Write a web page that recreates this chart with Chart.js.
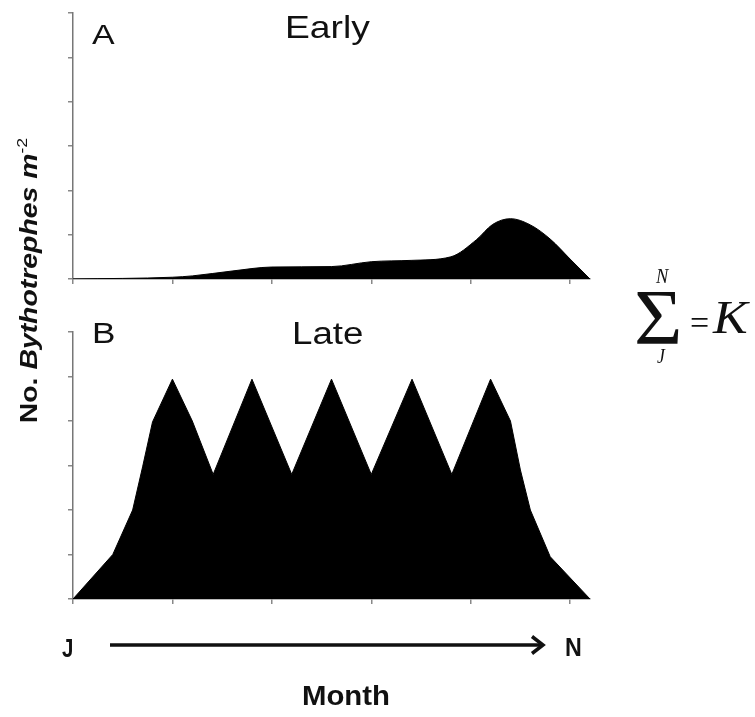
<!DOCTYPE html>
<html>
<head>
<meta charset="utf-8">
<script src="https://cdn.jsdelivr.net/npm/chart.js@4.4.1/dist/chart.umd.min.js"></script>
<style>
  html, body { margin: 0; padding: 0; background: #fff; }
  #wrap { position: relative; width: 755px; height: 717px; overflow: hidden; }
  .panel { position: absolute; left: 0; }
  .txt { position: absolute; white-space: nowrap; line-height: 1; color: #111; transform-origin: 0 0; }
</style>
</head>
<body>
<div id="wrap">
  <div class="panel" style="top:0;width:600px;height:290px"><canvas id="early" width="600" height="290"></canvas></div>
  <div class="panel" style="top:300px;width:600px;height:310px"><canvas id="late" width="600" height="310"></canvas></div>
  <svg style="position:absolute;left:0;top:0" width="755" height="717">
    <line x1="110" y1="645" x2="542" y2="645" stroke="#111" stroke-width="3.5"/>
    <polyline points="532,636.5 543,645 532,653.5" fill="none" stroke="#111" stroke-width="3.5"/>
  </svg>
</div>
<script>
// x in month-tick units (J = 0 ... N = 5), y in axis-tick units
const earlyMonth = [0, 1.0, 1.2, 1.6, 2.0, 2.6, 3.0, 3.4, 3.8, 4.06, 4.22, 4.4, 4.6, 4.8, 5.0, 5.2];
const earlyCount = [0, 0.04, 0.07, 0.18, 0.27, 0.28, 0.39, 0.42, 0.5, 0.89, 1.23, 1.36, 1.22, 0.9, 0.45, 0];

const lateMonth = [0, 0.4, 0.6, 0.7, 0.8, 1.0, 1.2, 1.41, 1.8, 2.2, 2.6, 3.0, 3.41, 3.81, 4.2, 4.4, 4.5, 4.6, 4.8, 5.2];
const lateCount = [0, 1.0, 2.0, 2.97, 3.98, 4.94, 4.0, 2.8, 4.94, 2.8, 4.94, 2.8, 4.94, 2.8, 4.94, 4.0, 2.9, 2.0, 0.95, 0];

const yTicks = [0, 1, 2, 3, 4, 5, 6];
const monthTicks = [0, 1, 2, 3, 4, 5];

function makePanel(id, xs, ys, padTop) {
  const ctx = document.getElementById(id).getContext('2d');
  return new Chart(ctx, {
    type: 'line',
    data: {
      datasets: [{
        data: xs.map((x, i) => ({ x: x, y: ys[i] })),
        borderColor: '#000',
        backgroundColor: '#000',
        borderWidth: 1,
        fill: 'origin',
        pointRadius: 0,
        tension: id === 'early' ? 0.35 : 0,
        cubicInterpolationMode: id === 'early' ? 'monotone' : 'default'
      }]
    },
    options: {
      responsive: false,
      animation: false,
      layout: { padding: { left: 63, right: 10, top: padTop, bottom: 5 } },
      plugins: { legend: { display: false }, tooltip: { enabled: false } },
      scales: {
        x: {
          type: 'linear',
          min: 0,
          max: 5.2,
          afterBuildTicks: (s) => { s.ticks = monthTicks.map(v => ({ value: v })); },
          afterFit: (s) => { s.height = 6; },
          ticks: { display: false },
          grid: { drawOnChartArea: false, drawTicks: true, tickLength: 5, color: '#888', lineWidth: 1.5 },
          border: { color: '#777', width: 1.5 }
        },
        y: {
          min: 0,
          max: 6,
          afterBuildTicks: (s) => { s.ticks = yTicks.map(v => ({ value: v })); },
          afterFit: (s) => { s.width = 10; },
          ticks: { display: false },
          grid: { drawOnChartArea: false, drawTicks: true, tickLength: 5, color: '#888', lineWidth: 1.5 },
          border: { color: '#777', width: 1.5 }
        }
      }
    }
  });
}

makePanel('early', earlyMonth, earlyCount, 13);
makePanel('late', lateMonth, lateCount, 32);

// text placed by left edge, baseline and target width
const wrap = document.getElementById('wrap');
function addText(html, left, baseline, size, font, width) {
  const el = document.createElement('div');
  el.className = 'txt';
  el.innerHTML = html;
  el.style.font = font.replace('SIZE', size + 'px');
  el.style.lineHeight = '1';
  wrap.appendChild(el);
  const k = /Serif/.test(font) ? 0.8 : 0.8465;
  el.style.left = left + 'px';
  el.style.top = (baseline - k * size) + 'px';
  if (width) el.style.transform = 'scaleX(' + (width / el.offsetWidth) + ')';
  return el;
}

const sans = 'SIZE "Liberation Sans", Arial, sans-serif';
const sansBold = 'bold SIZE "Liberation Sans", Arial, sans-serif';
const serifIt = 'italic SIZE "Liberation Serif", "Times New Roman", serif';
const serif = 'SIZE "Liberation Serif", "Times New Roman", serif';

addText('A', 92, 45, 28, sans, 23);
addText('Early', 285, 38, 32, sans, 85);
addText('B', 92, 344, 29, sans, 23);
addText('Late', 292, 344, 31, sans, 71);

addText('J', 62, 657, 26, sansBold, 11);
addText('N', 565, 656, 26, sansBold, 17);
addText('Month', 302, 706, 28, sansBold, 88);

addText('N', 656, 282, 20, serifIt, 12);
addText('\u03A3', 634, 340, 78, serif, 48);
addText('J', 657, 362, 20, serifIt, 8);
addText('=', 690, 333, 34, serif, 19);
addText('K', 713, 332, 46, serifIt, 35);

// rotated y axis title
(function () {
  const el = document.createElement('div');
  el.className = 'txt';
  el.style.font = 'bold 24px "Liberation Sans", Arial, sans-serif';
  el.innerHTML = 'No. <i>Bythotrephes m</i><sup style="font-size:15px;font-weight:normal;position:relative;top:-1px">-2</sup>';
  wrap.appendChild(el);
  el.style.verticalAlign = 'baseline';
  const w = el.offsetWidth, h = el.offsetHeight;
  const cx = 28.5, cy = 280;
  el.style.left = (cx - w / 2) + 'px';
  el.style.top = (cy - h / 2) + 'px';
  el.style.transformOrigin = '50% 50%';
  el.style.transform = 'rotate(-90deg) scaleX(' + (285 / w) + ')';
})();
</script>
</body>
</html>
